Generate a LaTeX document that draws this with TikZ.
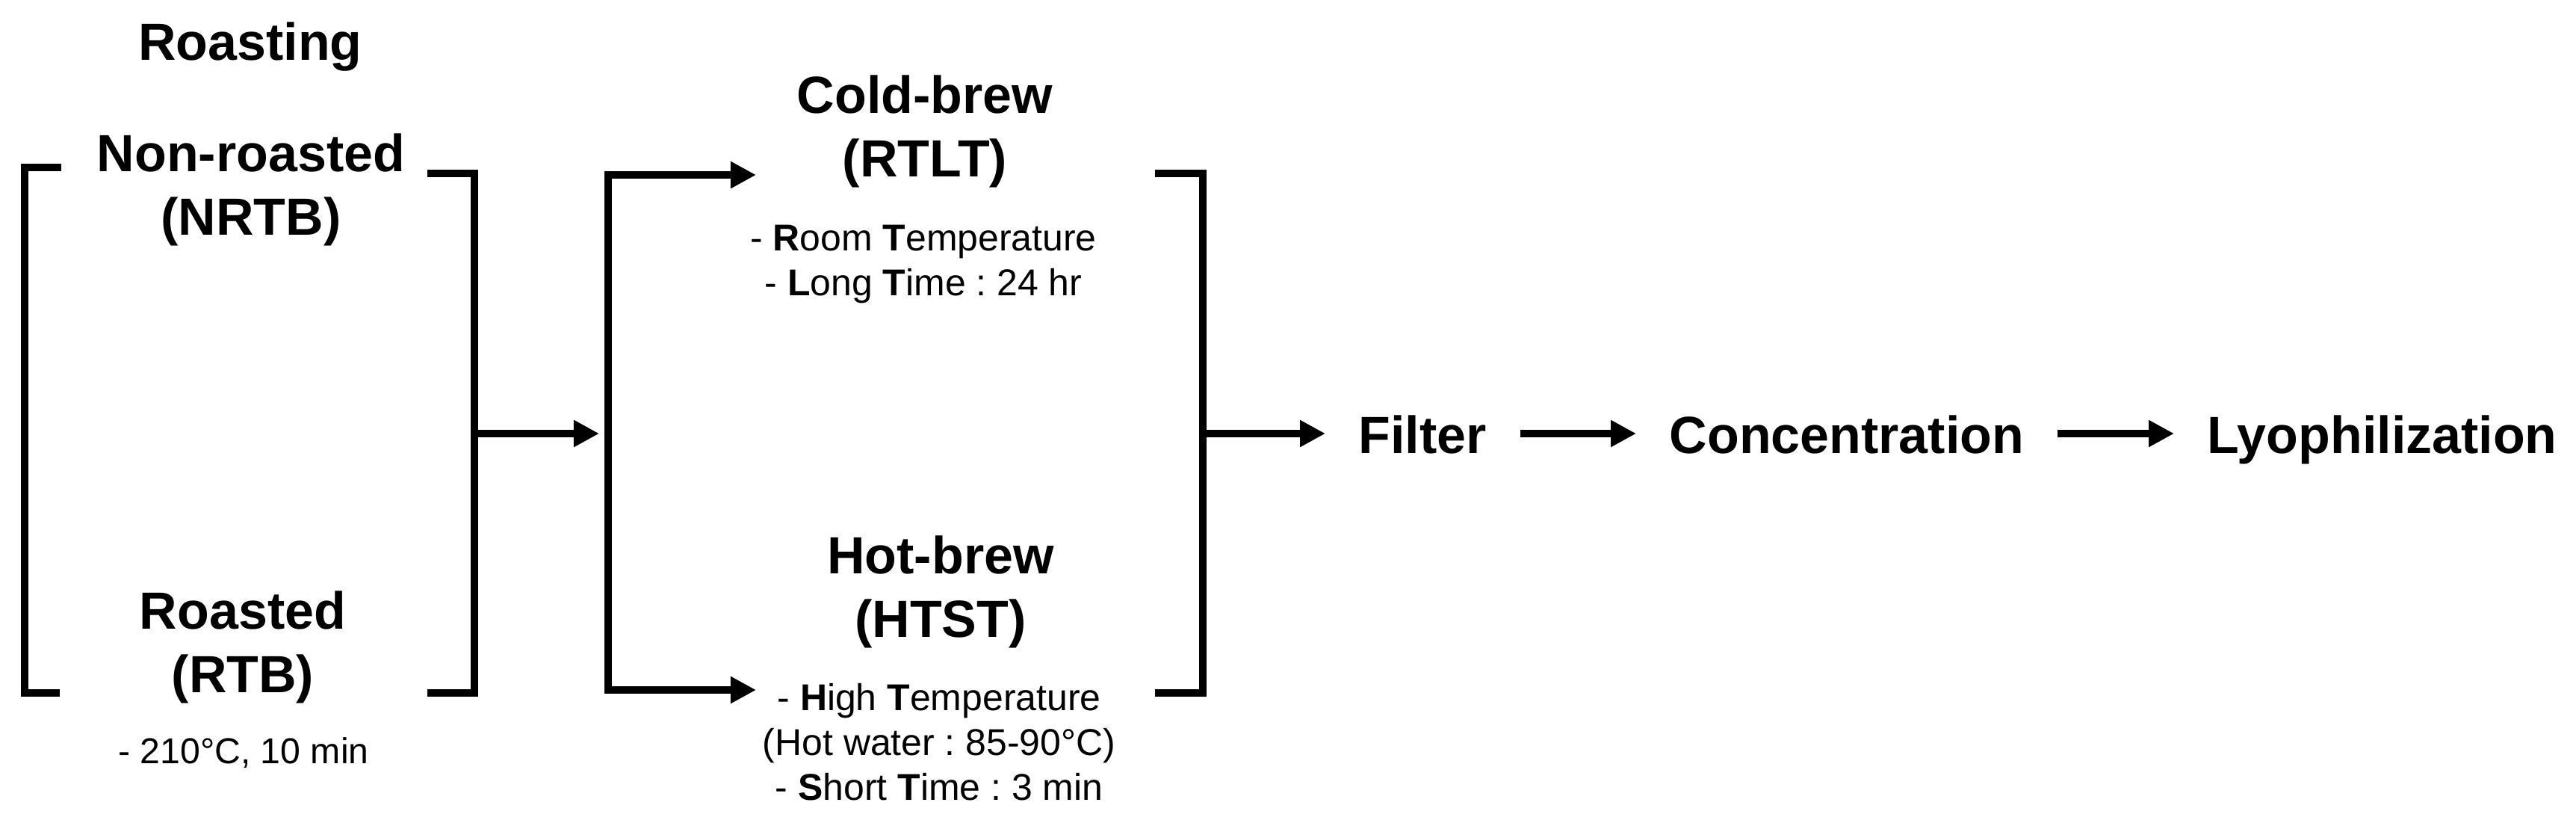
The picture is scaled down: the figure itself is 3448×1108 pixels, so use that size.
\documentclass[tikz,border=0pt]{standalone}
\usepackage{fontspec}
\setmainfont{Liberation Sans}
\usetikzlibrary{arrows.meta}
\frenchspacing
\begin{document}
\begin{tikzpicture}[x=0.01cm,y=-0.01cm,
  big/.style={font=\fontsize{19.9}{24.2}\selectfont\bfseries, inner sep=0pt, anchor=base},
  small/.style={font=\fontsize{14.2}{17.1}\selectfont, inner sep=0pt, anchor=base},
  brk/.style={line width=0.1cm, line join=miter},
  tip/.tip={Triangle[length=0.34cm,width=0.34cm]},
  arr/.style={line width=0.1cm, -tip},
  chain/.style={big, inner xsep=0.44cm, anchor=base west},
]
\useasboundingbox (0,0) rectangle (3448,1108);

% texts
\node[big] (roasting) at (335,80) {Roasting};
\node[big] (nrtb) at (336,229) {\begin{tabular}[t]{@{}c@{}}Non-roasted\\(NRTB)\end{tabular}};
\node[big] (rtb) at (325,841) {\begin{tabular}[t]{@{}c@{}}Roasted\\(RTB)\end{tabular}};
\node[small, font=\fontsize{13.7}{16.5}\selectfont] (rtbcond) at (326,1021) {- 210°C, 10 min};

\node[big] (rtlt) at (1238,151) {\begin{tabular}[t]{@{}c@{}}Cold-brew\\(RTLT)\end{tabular}};
\node[small] (rtltcond) at (1236,335) {\begin{tabular}[t]{@{}c@{}}- \textbf{R}oom \textbf{T}emperature\\- \textbf{L}ong \textbf{T}ime : 24 hr\end{tabular}};
\node[big] (htst) at (1259,767) {\begin{tabular}[t]{@{}c@{}}Hot-brew\\(HTST)\end{tabular}};
\node[small] (htstcond) at (1257,950) {\begin{tabular}[t]{@{}c@{}}- \textbf{H}igh \textbf{T}emperature\\(Hot water : 85-90°C)\\- \textbf{S}hort \textbf{T}ime : 3 min\end{tabular}};

\node[chain] (filter) at (1774,606) {Filter};
\node[chain] (conc) at (2190,606) {Concentration};
\node[chain] (lyo) at (2910,606) {Lyophilization};

% brackets
\draw[brk] (82,224) -- (33,224) -- (33,927) -- (80,927);
\draw[brk] (572,232) -- (635,232) -- (635,927) -- (572,927);
\draw[brk] (1546,232) -- (1610,232) -- (1610,927) -- (1546,927);

% junctions
\coordinate (j1) at (635,580);
\coordinate (j2) at (814,580);
\coordinate (j3) at (1610,580);
\coordinate (c2t) at (1012,234);
\coordinate (c2b) at (1012,923);

% connectors
\draw[arr, shorten >=0.12cm] (j1) -- (j2);
\draw[brk, tip-tip] (c2t) -- (814,234) -- (814,923) -- (c2b);
\draw[arr] (j3) -- (filter.west |- j3);
\draw[arr] (filter.east |- j3) -- (conc.west |- j3);
\draw[arr] (conc.east |- j3) -- (lyo.west |- j3);
\end{tikzpicture}
\end{document}
